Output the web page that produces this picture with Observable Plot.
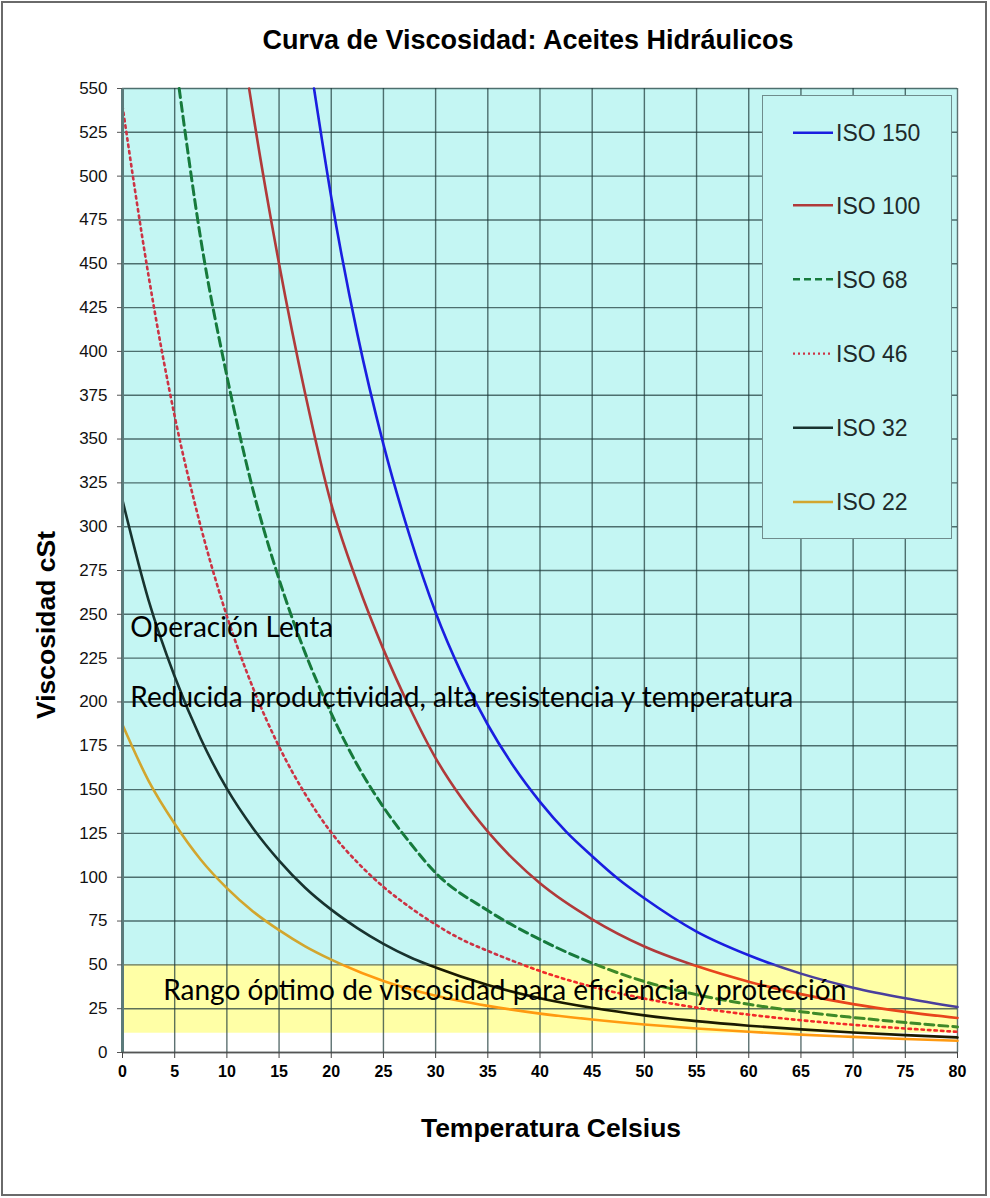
<!DOCTYPE html>
<html><head><meta charset="utf-8">
<script src="https://cdn.jsdelivr.net/npm/d3@7"></script>
<script src="https://cdn.jsdelivr.net/npm/@observablehq/plot@0.6"></script>
<style>
html,body{margin:0;padding:0;background:#fff;overflow:hidden}
#wrap{position:relative;width:990px;height:1198px;font-family:"Liberation Sans",Arial,sans-serif;color:#000}
#frame{position:absolute;left:1px;top:1px;width:986px;height:1195px;border:2px solid #6a6a6a;box-sizing:border-box;pointer-events:none}
.title{position:absolute;top:24px;left:528px;transform:translateX(-50%);font-weight:bold;font-size:27px;line-height:32px;white-space:nowrap}
.xlabel{position:absolute;top:1112px;left:551px;transform:translateX(-50%);font-weight:bold;font-size:26.5px;line-height:32px;white-space:nowrap}
.ylabel{position:absolute;left:46px;top:625px;transform:translate(-50%,-50%) rotate(-90deg);font-weight:bold;font-size:26.5px;line-height:32px;white-space:nowrap}
#legend{position:absolute;left:762px;top:95px;width:190px;height:444px;background:#c4f6f3;border:1.5px solid #6f8c8c;box-sizing:border-box}
</style></head>
<body>
<div id="wrap">
  <div id="chart"></div>
  <div class="title">Curva de Viscosidad: Aceites Hidráulicos</div>
  <div class="ylabel">Viscosidad cSt</div>
  <div class="xlabel">Temperatura Celsius</div>
  <div id="legend"></div>
  <div id="frame"></div>
</div>
<script>
// ---- data ----
const seriesNames = ["ISO 150", "ISO 100", "ISO 68", "ISO 46", "ISO 32", "ISO 22"];

const temps150 = [18.35, 20, 22.5, 25, 27.5, 30, 32.5, 35, 37.5, 40, 42.5, 45, 47.5, 50, 55, 60, 65, 70, 75, 80];
const visc150  = [550, 488, 410, 347, 295, 251, 216, 187, 163, 143, 126, 112, 99, 88, 69, 55.5, 45, 37, 31, 26];

const temps100 = [12.13, 12.5, 15, 17.5, 20, 22.5, 25, 27.5, 30, 32.5, 35, 37.5, 40, 45, 50, 55, 60, 65, 70, 75, 80];
const visc100  = [550, 536, 450, 376, 313, 268, 230, 197, 168, 145, 126, 110, 96.5, 76, 60.5, 49.3, 40.4, 33.3, 27.6, 23.2, 19.7];

const temps68 = [5.43, 7.5, 10, 12.5, 15, 17.5, 20, 22.5, 25, 27.5, 30, 35, 40, 45, 50, 55, 60, 65, 70, 75, 80];
const visc68  = [550, 464, 386, 321, 270, 228, 193.5, 164, 140, 120, 102.5, 81, 64.5, 51, 40.5, 33, 27.5, 23.3, 20, 17.1, 14.6];

const temps46 = [0, 2.5, 5, 7.5, 10, 12.5, 15, 17.5, 20, 22.5, 25, 27.5, 30, 32.5, 35, 37.5, 40, 45, 50, 55, 60, 65, 70, 75, 80];
const visc46  = [540, 443, 363, 300, 249, 208, 174.5, 147.5, 125.5, 108.5, 94.5, 83, 73, 64.5, 58, 52, 46.5, 37.5, 30.8, 25.6, 21.6, 18.4, 15.8, 13.7, 11.8];

const temps32 = [0, 2.5, 5, 7.5, 10, 12.5, 15, 17.5, 20, 22.5, 25, 27.5, 30, 35, 40, 45, 50, 55, 60, 65, 70, 75, 80];
const visc32  = [315, 258, 214.5, 179, 150.5, 128, 109.5, 94, 81.5, 71, 62, 54.5, 48.5, 38.5, 31, 25.5, 21.2, 17.9, 15.3, 13.2, 11.4, 9.9, 8.6];

const temps22 = [0, 2.5, 5, 7.5, 10, 12.5, 15, 17.5, 20, 25, 30, 35, 40, 45, 50, 55, 60, 65, 70, 75, 80];
const visc22  = [187, 155, 130.5, 110, 93.8, 80.5, 69.8, 60.6, 53, 40.8, 32.4, 26.6, 22.2, 18.8, 16, 13.7, 11.8, 10.2, 8.9, 7.7, 6.7];

const xTicks = [0, 5, 10, 15, 20, 25, 30, 35, 40, 45, 50, 55, 60, 65, 70, 75, 80];
const yTicks = [0, 25, 50, 75, 100, 125, 150, 175, 200, 225, 250, 275, 300, 325, 350, 375, 400, 425, 450, 475, 500, 525, 550];

const slowBand = [50, 550];     // zona de operación lenta
const optimalBand = [11, 50];   // rango óptimo

const annotations = [
  {text: "Operación Lenta", t: 0.75, v: 242},
  {text: "Reducida productividad, alta resistencia y temperatura", t: 0.75, v: 202},
  {text: "Rango óptimo de viscosidad para eficiencia y protección", t: 3.9, v: 35}
];

// ---- styles ----
const styles = [
  {color: "#1a1ee0", band: "#4a3f9c", dash: null, width: 2.6},
  {color: "#b03a3a", band: "#e8441c", dash: null, width: 2.6},
  {color: "#167a3c", band: "#3f8a28", dash: "9,5", width: 3},
  {color: "#cc3344", band: "#f22a2a", dash: "2.5,4", width: 2.6},
  {color: "#18332f", band: "#1a1a00", dash: null, width: 2.6},
  {color: "#d2a62e", band: "#ff9a10", dash: null, width: 2.6}
];
const temps = [temps150, temps100, temps68, temps46, temps32, temps22];
const viscs = [visc150, visc100, visc68, visc46, visc32, visc22];
const rows = temps.map((t, i) => t.map((d, j) => ({t: d, v: viscs[i][j]})));

const lineMarks = (key) => rows.map((r, i) => Plot.line(r, {
  x: "t", y: "v", curve: "monotone-x",
  stroke: styles[i][key], strokeWidth: styles[i].width,
  strokeDasharray: styles[i].dash || undefined
}));

const plot = Plot.plot({
  width: 990, height: 1198,
  marginLeft: 122, marginRight: 33, marginTop: 88, marginBottom: 146,
  x: {domain: [0, 80]},
  y: {domain: [0, 550]},
  style: {background: "transparent", fontFamily: "'Liberation Sans', Arial, sans-serif", color: "#111"},
  marks: [
    Plot.rect([slowBand], {x1: () => 0, x2: () => 80, y1: d => d[0], y2: d => d[1], fill: "#c4f6f3"}),
    Plot.rect([optimalBand], {x1: () => 0, x2: () => 80, y1: d => d[0], y2: d => d[1], fill: "#ffffa6"}),
    Plot.ruleX(xTicks, {stroke: "#1f3a3a", strokeOpacity: 0.72, strokeWidth: 1.4}),
    Plot.ruleY(yTicks, {stroke: "#1f3a3a", strokeOpacity: 0.72, strokeWidth: 1.4}),
    ...lineMarks("color"),
    ...lineMarks("band"),
    Plot.text(annotations, {x: "t", y: "v", text: "text", textAnchor: "start", fontSize: 28, fontFamily: "Lato, 'Open Sans', sans-serif", fill: "#000"}),
    Plot.ruleX([0], {stroke: "#5b7a7a", strokeWidth: 3}),
    Plot.ruleY([0], {stroke: "#555", strokeWidth: 1.5}),
    Plot.axisX(xTicks, {tickSize: 6, tickPadding: 7, fontSize: 16, fontWeight: "bold", label: null, stroke: "#444", fill: "#000"}),
    Plot.axisY(yTicks, {tickSize: 5, tickPadding: 10, fontSize: 17, label: null, stroke: "#555", fill: "#111"})
  ]
});

// colour change of the curves inside the optimal band (lines below 50 cSt)
const y50 = plot.scale("y").apply(50);
const ns = "http://www.w3.org/2000/svg";
const defs = document.createElementNS(ns, "defs");
defs.innerHTML = `<clipPath id="clipAbove"><rect x="0" y="0" width="990" height="${y50}"/></clipPath>
<clipPath id="clipBelow"><rect x="0" y="${y50}" width="990" height="${1198 - y50}"/></clipPath>`;
plot.insertBefore(defs, plot.firstChild);
const lineGroups = plot.querySelectorAll('g[aria-label="line"]');
lineGroups.forEach((g, i) => g.setAttribute("clip-path", i < 6 ? "url(#clipAbove)" : "url(#clipBelow)"));

document.getElementById("chart").appendChild(plot);

// legend
const rowY = [36.7, 109.3, 183.3, 257.7, 331.7, 406];
const leg = d3.select("#legend").append("svg").attr("width", 188).attr("height", 441);
seriesNames.forEach((name, i) => {
  leg.append("line").attr("x1", 30).attr("x2", 70).attr("y1", rowY[i]).attr("y2", rowY[i])
    .attr("stroke", styles[i].color).attr("stroke-width", i === 3 ? 2.2 : 2.6)
    .attr("stroke-dasharray", i === 2 ? "7,4" : i === 3 ? "2,3" : null);
  leg.append("text").attr("x", 73).attr("y", rowY[i]).attr("dy", "0.36em")
    .attr("font-size", 23).attr("fill", "#1e2a2a").attr("font-family", "'Liberation Sans', Arial, sans-serif")
    .text(name);
});
</script>
</body></html>
